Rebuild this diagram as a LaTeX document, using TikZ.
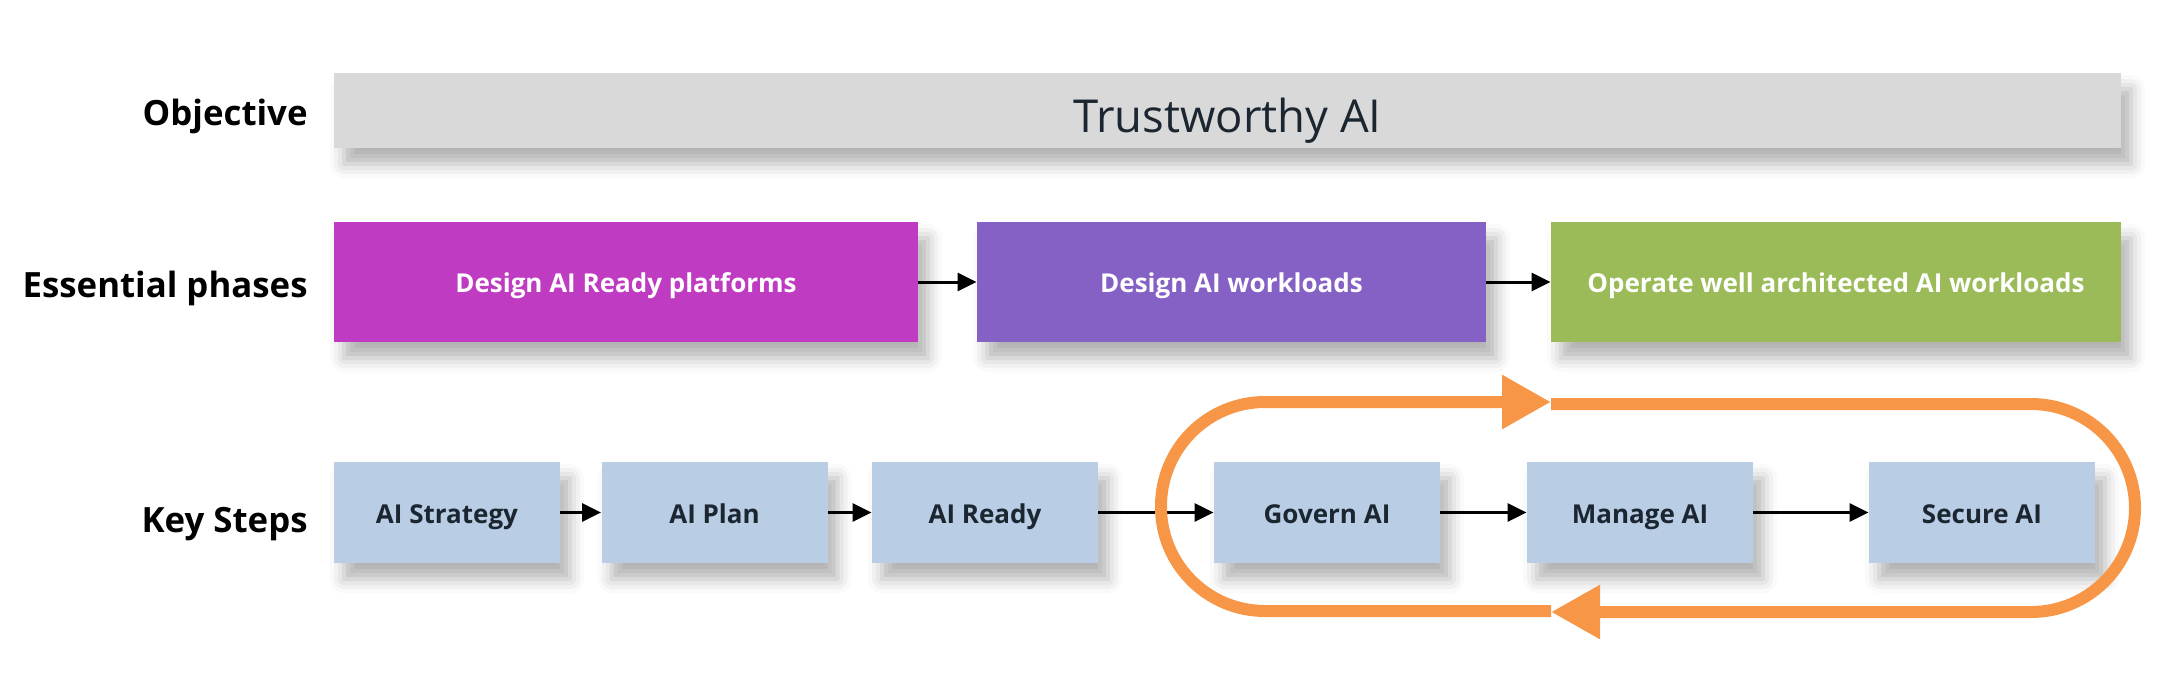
\documentclass[tikz,border=0pt]{standalone}
\usepackage{fontspec}
\setmainfont{Open Sans}
\usetikzlibrary{arrows.meta,shadows.blur}

\definecolor{objgray}{HTML}{D9D9D9}
\definecolor{phasemag}{HTML}{BF3BC1}
\definecolor{phasepur}{HTML}{8661C5}
\definecolor{phasegrn}{HTML}{9BBB59}
\definecolor{stepblue}{HTML}{B9CDE5}
\definecolor{loopor}{HTML}{F79646}
\definecolor{darktext}{HTML}{1B2631}

\begin{document}
\begin{tikzpicture}[x=0.5pt, y=-0.5pt,
    rowlabel/.style={font=\bfseries\fontsize{17.4}{21}\selectfont, anchor=base east, inner sep=0pt},
    boxshadow/.style={blur shadow={shadow xshift=5pt, shadow yshift=-8pt,
        shadow blur radius=7pt, shadow opacity=30}},
    phasebox/.style={boxshadow, text=white, minimum height=60pt, text height=10pt, text depth=0pt,
        font=\bfseries\fontsize{13}{16}\selectfont, inner sep=0pt},
    stepbox/.style={boxshadow, fill=stepblue, text=darktext, minimum width=113pt,
        minimum height=50.5pt, text height=10.5pt, text depth=0pt,
        font=\bfseries\fontsize{13}{16}\selectfont, inner sep=0pt},
    flow/.style={line width=1.5pt, -{Triangle[length=9.5pt,width=9pt]}},
    cycle/.style={draw=loopor, line width=6pt, rounded corners=52pt,
        -{Triangle[length=24.5pt,width=25.5pt]}}]

  \useasboundingbox (0,0) rectangle (2164,685);

  %% Row labels
  \node[rowlabel] (objlbl) at (308,125) {Objective};
  \node[rowlabel] (phaselbl) at (308,297) {Essential phases};
  \node[rowlabel] (steplbl) at (308,532) {Key Steps};

  %% Objective
  \node[boxshadow, fill=objgray, text=darktext, minimum width=893.5pt, minimum height=37.5pt,
        text height=21.5pt, text depth=0pt,
        font=\fontsize{22.7}{27}\selectfont, inner sep=0pt] (objective) at (1227.5,110.5) {Trustworthy AI};

  %% Essential phases
  \node[phasebox, fill=phasemag, minimum width=292pt] (platform) at (626,282) {Design AI Ready platforms};
  \node[phasebox, fill=phasepur, minimum width=254.5pt] (workload) at (1231.5,282) {Design AI workloads};
  \node[phasebox, fill=phasegrn, minimum width=285pt] (operate) at (1836,282) {Operate well architected AI workloads};

  \draw[flow] (platform) -- (workload);
  \draw[flow] (workload) -- (operate);

  %% Key steps
  \node[stepbox] (strategy) at (447,512.5) {AI Strategy};
  \node[stepbox] (plan) at (714.5,512.5) {AI Plan};
  \node[stepbox] (ready) at (985,512.5) {AI Ready};
  \node[stepbox] (govern) at (1327,512.5) {Govern AI};
  \node[stepbox] (manage) at (1640,512.5) {Manage AI};
  \node[stepbox] (secure) at (1982,512.5) {Secure AI};

  \foreach \a/\b in {strategy/plan, plan/ready, ready/govern, govern/manage, manage/secure}
    \draw[flow] (\a) -- (\b);

  %% Operating loop round govern, manage and secure
  \coordinate (looptop) at (1551,402);
  \coordinate (loopbot) at (1551,611);
  \draw[cycle] (loopbot) -- (1161,611) -- (1161,402) -- (looptop);
  \draw[cycle] ([yshift=-1pt]looptop) -- (2135,404) -- (2135,612) -- ([yshift=-0.5pt]loopbot);

\end{tikzpicture}
\end{document}
